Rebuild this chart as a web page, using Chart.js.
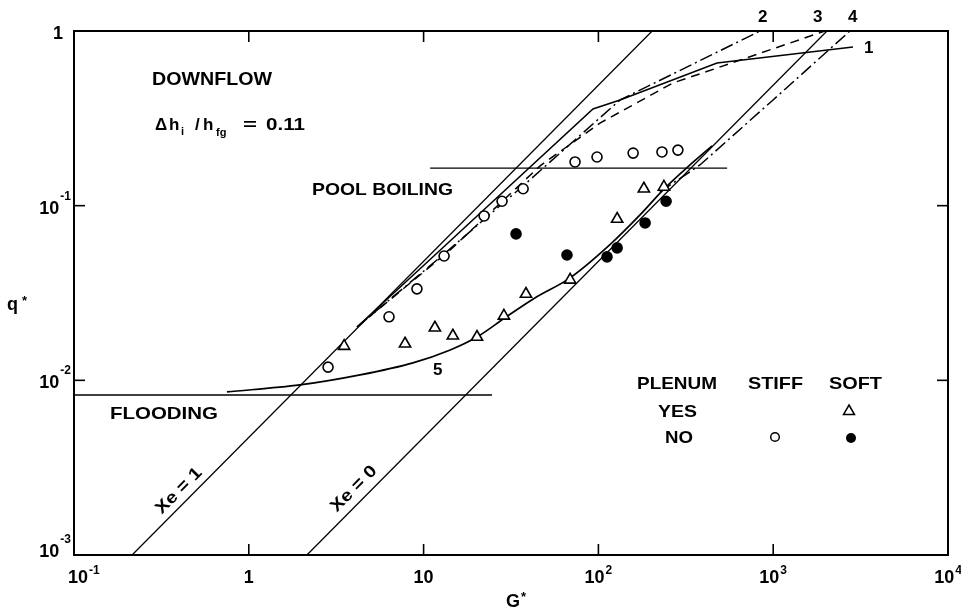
<!DOCTYPE html>
<html>
<head>
<meta charset="utf-8">
<script src="https://cdn.jsdelivr.net/npm/chart.js@4/dist/chart.umd.min.js"></script>
<style>
  html, body { margin: 0; padding: 0; background: #fff; }
  canvas { display: block; }
</style>
</head>
<body>
<canvas id="chf" width="961" height="609"></canvas>
<script>
// Decade ticks and their labels (base, exponent)
const gTicks = [0.1, 1, 10, 100, 1000, 10000];
const gTickLabels = [['10', '-1'], ['1', ''], ['10', ''], ['10', '2'], ['10', '3'], ['10', '4']];
const qTicks = [0.001, 0.01, 0.1, 1];
const qTickLabels = [['10', '-3'], ['10', '-2'], ['10', '-1'], ['1', '']];

// Measurements: stiff system, no plenum (open circles)
const stiffNoG = [2.84, 6.34, 9.16, 13.1, 22.2, 28.1, 37.1, 73.5, 98.2, 158, 231, 285];
const stiffNoQ = [0.0119, 0.0231, 0.0334, 0.0515, 0.0873, 0.106, 0.125, 0.178, 0.190, 0.200, 0.203, 0.208];
// Soft system with plenum (triangles)
const softYesG = [3.51, 7.83, 11.6, 14.7, 20.2, 28.8, 38.5, 68.9, 128, 182, 237];
const softYesQ = [0.0157, 0.0162, 0.0200, 0.0180, 0.0177, 0.0234, 0.0312, 0.0376, 0.0839, 0.125, 0.128];
// Soft system, no plenum (filled circles)
const softNoG = [33.8, 66.1, 112, 128, 185, 244];
const softNoQ = [0.0689, 0.0522, 0.0509, 0.0573, 0.0796, 0.106];

// Equilibrium quality lines
const xe1G = [0.215, 203];
const xe1Q = [0.001, 1];
const xe0G = [2.15, 2030];
const xe0Q = [0.001, 1];
// Pool boiling and flooding limits
const poolG = [10.9, 545];
const poolQ = [0.164, 0.164];
const floodG = [0.1, 24.6];
const floodQ = [0.00824, 0.00824];

// Correlation curves 1-5
const curve1G = [4.16, 93.1, 133, 477, 2860];
const curve1Q = [0.0202, 0.358, 0.403, 0.656, 0.81];
const curve2G = [4.16, 13.1, 37.1, 133, 841];
const curve2Q = [0.0202, 0.0529, 0.130, 0.403, 1];
const curve3G = [4.16, 14.2, 46.4, 102, 267, 477, 1977];
const curve3Q = [0.0202, 0.0558, 0.169, 0.297, 0.504, 0.614, 1];
const curve4G = [225, 381, 998, 2748];
const curve4Q = [0.120, 0.171, 0.403, 1];
const curve5G = [0.75, 1.96, 4.33, 8.69, 14.2, 20.2, 29.2, 43.3, 68.9, 116, 173, 240, 334, 447];
const curve5Q = [0.00859, 0.00941, 0.01074, 0.01259, 0.01493, 0.0177, 0.0228, 0.0296, 0.0386, 0.0596, 0.0885, 0.126, 0.171, 0.220];

const FONT = '"Liberation Sans", Arial, Helvetica, sans-serif';
const DASH = [9, 6];
const DASH_DOT = [13, 4, 2, 4];

function pts(g, q) { return g.map((v, i) => ({ x: v, y: q[i] })); }

function lineSet(label, g, q, dash, width, smooth) {
  return {
    label, data: pts(g, q), showLine: true, pointRadius: 0,
    borderColor: '#000', borderWidth: width || 1.4, borderDash: dash || [],
    fill: false, tension: 0,
    cubicInterpolationMode: smooth ? 'monotone' : 'default'
  };
}

function markerSet(label, g, q, style, radius, fill) {
  return {
    label, data: pts(g, q), showLine: false,
    pointStyle: style, pointRadius: radius, pointBorderWidth: 1.6,
    pointBorderColor: '#000', pointBackgroundColor: fill
  };
}

function fitText(ctx, str, x, y, size, width) {
  ctx.font = 'bold ' + size + 'px ' + FONT;
  const w = ctx.measureText(str).width;
  ctx.save();
  ctx.translate(x, y);
  if (width) ctx.scale(width / w, 1);
  ctx.fillText(str, 0, 0);
  ctx.restore();
}

function seg(ctx, x1, y1, x2, y2) {
  ctx.beginPath(); ctx.moveTo(x1, y1); ctx.lineTo(x2, y2); ctx.stroke();
}

const framePlugin = {
  id: 'frame',
  afterDatasetsDraw(chart) {
    const { ctx, chartArea: a, scales: { x, y } } = chart;
    ctx.save();
    ctx.strokeStyle = '#000';
    ctx.lineWidth = 2;
    ctx.strokeRect(a.left, a.top, a.right - a.left, a.bottom - a.top);
    ctx.lineWidth = 1.6;
    const tl = 11;
    gTicks.forEach(v => {
      const px = x.getPixelForValue(v);
      seg(ctx, px, a.bottom, px, a.bottom - tl);
      seg(ctx, px, a.top, px, a.top + tl);
    });
    qTicks.forEach(v => {
      const py = y.getPixelForValue(v);
      seg(ctx, a.left, py, a.left + tl, py);
      seg(ctx, a.right, py, a.right - tl, py);
    });
    ctx.restore();
  },
  afterDraw(chart) {
    const { ctx, chartArea: a, scales: { x, y } } = chart;
    ctx.save();
    ctx.fillStyle = '#000';
    ctx.textBaseline = 'alphabetic';
    ctx.textAlign = 'left';

    // x tick labels
    gTicks.forEach((v, i) => {
      const [base, sup] = gTickLabels[i];
      ctx.font = 'bold 18px ' + FONT;
      const wb = ctx.measureText(base).width;
      ctx.font = 'bold 12px ' + FONT;
      const ws = sup ? ctx.measureText(sup).width + 1 : 0;
      let left = x.getPixelForValue(v) - (wb + ws) / 2;
      if (i === 0) left = 68;
      fitText(ctx, base, left, 583, 18);
      if (sup) fitText(ctx, sup, left + wb + 1, 574, 12);
    });
    // y tick labels
    qTicks.forEach((v, i) => {
      const [base, sup] = qTickLabels[i];
      const py = y.getPixelForValue(v);
      const by = i === 0 ? py + 2 : py + 8;
      ctx.font = 'bold 18px ' + FONT;
      const wb = ctx.measureText(base).width;
      if (sup) {
        ctx.font = 'bold 12px ' + FONT;
        const ws = ctx.measureText(sup).width;
        const right = 71;
        fitText(ctx, sup, right - ws, by - 14, 12);
        fitText(ctx, base, right - ws - wb - 1, by, 18);
      } else {
        fitText(ctx, base, 63 - wb, by, 18);
      }
    });

    // axis titles
    fitText(ctx, 'q', 7, 310, 18);
    fitText(ctx, '*', 22, 305, 13);
    fitText(ctx, 'G', 506, 607, 18);
    fitText(ctx, '*', 521, 601, 13);

    // annotations
    fitText(ctx, 'DOWNFLOW', 152, 85, 18, 120);
    fitText(ctx, '\u0394', 155, 130, 17);
    fitText(ctx, 'h', 169, 130, 17);
    fitText(ctx, 'i', 181, 135, 11);
    fitText(ctx, '/', 195, 130, 17);
    fitText(ctx, 'h', 203, 130, 17);
    fitText(ctx, 'fg', 216, 136, 11);
    fitText(ctx, '=', 243, 130, 17, 14);
    fitText(ctx, '0.11', 266, 130, 17, 39);
    fitText(ctx, 'POOL BOILING', 312, 195, 17, 141);
    fitText(ctx, 'FLOODING', 110, 419, 17, 108);
    fitText(ctx, '5', 433, 375, 17);
    fitText(ctx, '2', 758, 22, 17);
    fitText(ctx, '3', 813, 22, 17);
    fitText(ctx, '4', 848, 22, 17);
    fitText(ctx, '1', 864, 53, 17);

    // rotated quality labels
    const ang = -Math.atan2(525, 520);
    [['Xe = 1', 178, 490], ['Xe = 0', 353, 488]].forEach(([s, cx, cy]) => {
      ctx.save();
      ctx.translate(cx, cy);
      ctx.rotate(ang);
      ctx.font = 'bold 17px ' + FONT;
      const w = ctx.measureText(s).width;
      ctx.scale(58 / w, 1);
      ctx.textAlign = 'center';
      ctx.fillText(s, 0, 6);
      ctx.restore();
    });

    // key table
    fitText(ctx, 'PLENUM', 637, 389, 17, 80);
    fitText(ctx, 'STIFF', 748, 389, 17, 55);
    fitText(ctx, 'SOFT', 829, 389, 17, 53);
    fitText(ctx, 'YES', 658, 417, 17, 39);
    fitText(ctx, 'NO', 665, 443, 17, 28);
    ctx.lineWidth = 1.5;
    ctx.strokeStyle = '#000';
    // triangle
    ctx.beginPath();
    ctx.moveTo(849, 405); ctx.lineTo(854.5, 414.5); ctx.lineTo(843.5, 414.5); ctx.closePath();
    ctx.stroke();
    // open circle
    ctx.beginPath(); ctx.arc(775, 437, 4.3, 0, Math.PI * 2); ctx.stroke();
    // filled circle
    ctx.beginPath(); ctx.arc(851, 438, 5, 0, Math.PI * 2); ctx.fill();

    ctx.restore();
  }
};

new Chart(document.getElementById('chf'), {
  type: 'scatter',
  data: {
    datasets: [
      markerSet('Stiff, no plenum', stiffNoG, stiffNoQ, 'circle', 5, '#fff'),
      markerSet('Soft, plenum', softYesG, softYesQ, 'triangle', 6.5, '#fff'),
      markerSet('Soft, no plenum', softNoG, softNoQ, 'circle', 5, '#000'),
      lineSet('Curve 1', curve1G, curve1Q, [], 1.5),
      lineSet('Curve 2', curve2G, curve2Q, DASH_DOT, 1.5),
      lineSet('Curve 3', curve3G, curve3Q, DASH, 1.5),
      lineSet('Curve 4', curve4G, curve4Q, DASH_DOT, 1.5),
      lineSet('Curve 5', curve5G, curve5Q, [], 1.7, true),
      lineSet('Xe = 1', xe1G, xe1Q, [], 1.3),
      lineSet('Xe = 0', xe0G, xe0Q, [], 1.3),
      lineSet('Pool boiling', poolG, poolQ, [], 1.4),
      lineSet('Flooding', floodG, floodQ, [], 1.4)
    ]
  },
  options: {
    responsive: false,
    devicePixelRatio: 1,
    animation: false,
    layout: { padding: { left: 74, right: 13, top: 31, bottom: 54 } },
    plugins: { legend: { display: false }, tooltip: { enabled: false } },
    scales: {
      x: { type: 'logarithmic', min: 0.1, max: 10000, display: false },
      y: { type: 'logarithmic', min: 0.001, max: 1, display: false }
    }
  },
  plugins: [framePlugin]
});
</script>
</body>
</html>
